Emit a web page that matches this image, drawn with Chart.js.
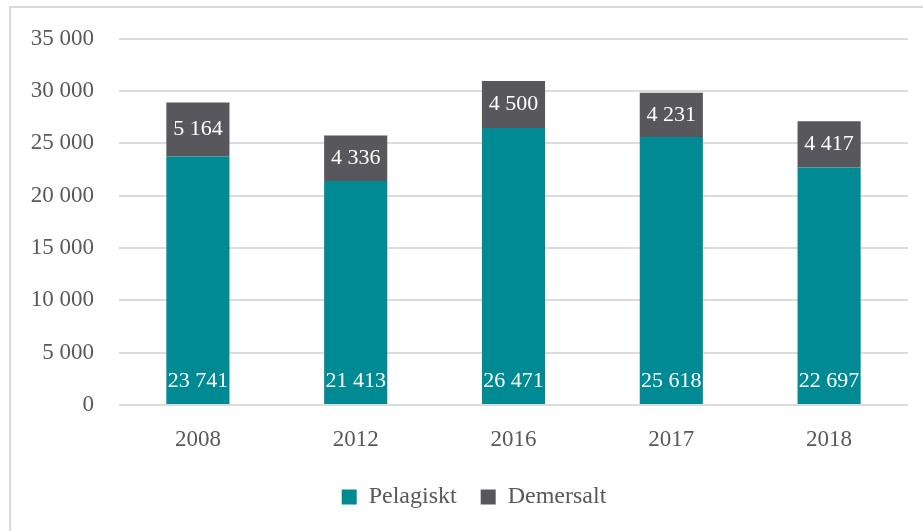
<!DOCTYPE html>
<html>
<head>
<meta charset="utf-8">
<script src="https://cdn.jsdelivr.net/npm/chart.js@4.4.0/dist/chart.umd.min.js"></script>
<style>
  html, body { margin: 0; padding: 0; background: #fff; overflow: hidden; }
  #frame { position: absolute; left: 9px; top: 6px; width: 1000px; height: 1000px; border: 2px solid #d9d9d9; box-sizing: border-box; }
  #wrap { position: absolute; left: 0; top: 0; width: 923px; height: 531px; }
</style>
</head>
<body>
<div id="frame"></div>
<div id="wrap"><canvas id="myChart" width="923" height="531"></canvas></div>
<script>
var years = ['2008', '2012', '2016', '2017', '2018'];
var pelagiskt = [23741, 21413, 26471, 25618, 22697];
var demersalt = [5164, 4336, 4500, 4231, 4417];

var fontFamily = "'Liberation Serif', 'DejaVu Serif', serif";
var textColor = '#595959';

function fmt(n) {
  return String(n).replace(/\B(?=(\d{3})+(?!\d))/g, ' ');
}

// draws the white value labels inside the bars
var barLabels = {
  id: 'barLabels',
  afterLayout: function (chart) {
    // legend sits a bit right of the canvas centre in the original
    chart.legend.left += 20;
    chart.legend.right += 20;
  },
  afterDatasetsDraw: function (chart) {
    var ctx = chart.ctx;
    ctx.save();
    ctx.fillStyle = '#ffffff';
    ctx.font = '22px ' + fontFamily;
    ctx.textAlign = 'center';
    ctx.textBaseline = 'middle';
    chart.data.datasets.forEach(function (ds, i) {
      var meta = chart.getDatasetMeta(i);
      meta.data.forEach(function (bar, j) {
        var p = bar.getProps(['x', 'y', 'base'], true);
        var y = i === 0 ? p.base - 23 : (p.y + p.base) / 2;
        ctx.fillText(fmt(ds.data[j]), p.x, y);
      });
    });
    ctx.restore();
  }
};

window.onload = function () {
  var ctx = document.getElementById('myChart').getContext('2d');
  var myChart = new Chart(ctx, {
    type: 'bar',
    data: {
      labels: years,
      datasets: [
        {
          label: 'Pelagiskt',
          data: pelagiskt,
          backgroundColor: '#008a93',
          barPercentage: 0.4,
          categoryPercentage: 1
        },
        {
          label: 'Demersalt',
          data: demersalt,
          backgroundColor: '#58585c',
          barPercentage: 0.4,
          categoryPercentage: 1
        }
      ]
    },
    options: {
      responsive: false,
      animation: false,
      layout: { padding: { top: 26, right: 15, left: 0, bottom: 12 } },
      plugins: {
        tooltip: { enabled: false },
        legend: {
          position: 'bottom',
          labels: {
            color: textColor,
            font: { family: fontFamily, size: 24 },
            boxWidth: 15,
            boxHeight: 15,
            padding: 24
          }
        }
      },
      scales: {
        x: {
          stacked: true,
          afterFit: function (scale) { scale.height = 56; },
          grid: { display: false, drawTicks: false },
          border: { display: false },
          ticks: { color: textColor, font: { family: fontFamily, size: 23 }, padding: 21 }
        },
        y: {
          stacked: true,
          min: 0,
          max: 35000,
          afterFit: function (scale) { scale.width = 119; },
          grid: { color: '#dcdcdc', lineWidth: 2, drawTicks: false },
          border: { display: false },
          ticks: {
            stepSize: 5000,
            color: textColor,
            font: { family: fontFamily, size: 23 },
            padding: 25,
            callback: function (v) { return fmt(v); }
          }
        }
      }
    },
    plugins: [barLabels]
  });
};
</script>
</body>
</html>
